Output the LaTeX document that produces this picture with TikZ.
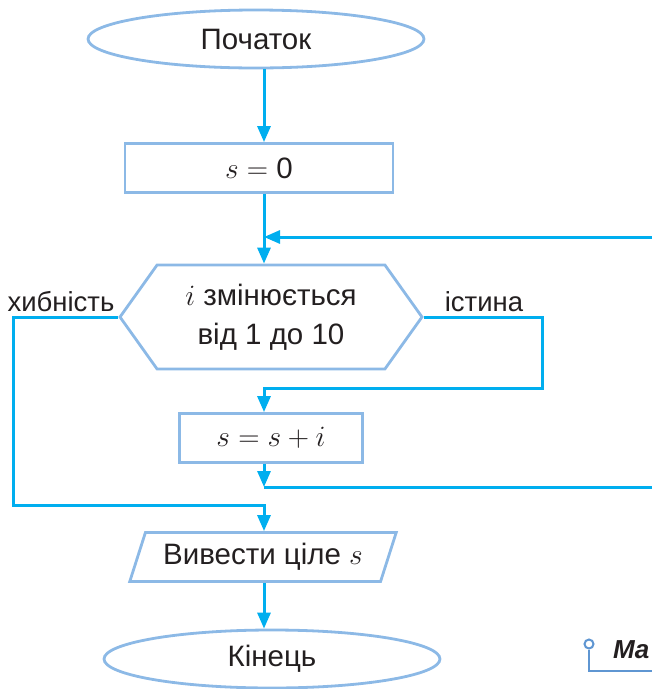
\RequirePackage{fix-cm}
\documentclass[tikz,border=0pt]{standalone}
\usepackage{fontspec}
\setmainfont{Liberation Sans}
\usetikzlibrary{positioning,arrows.meta,shapes.geometric,shapes.symbols}
\definecolor{flowline}{RGB}{0,174,239}
\definecolor{shapeline}{RGB}{140,185,230}
\definecolor{inktext}{RGB}{35,31,32}
\definecolor{pinblue}{RGB}{95,150,210}

\begin{document}
\begin{tikzpicture}[x=1pt, y=-1pt,
  every node/.style={text=inktext, font=\fontsize{29.5}{39}\selectfont},
  term/.style={draw=shapeline, line width=2.8pt, ellipse, minimum width=336pt,
               minimum height=58pt, inner sep=0pt},
  proc/.style={draw=shapeline, line width=2.8pt, rectangle, inner sep=0pt},
  io/.style={draw=shapeline, line width=2.8pt, trapezium, trapezium left angle=64,
             trapezium right angle=116, trapezium stretches=true, inner sep=0pt,
             minimum width=267pt, minimum height=49pt},
  loopbox/.style={draw=shapeline, line width=2.8pt, signal, signal to=west and east,
                  signal pointer angle=109, minimum width=302pt, minimum height=104pt,
                  inner sep=0pt, align=center},
  branch/.style={anchor=base, font=\fontsize{27.5}{33}\selectfont},
  arr/.style={-{Triangle[length=16pt,width=13pt]}, flowline, line width=3pt},
  flow/.style={flowline, line width=3pt}]
\useasboundingbox (0,0) rectangle (652,689);
\coordinate (sp) at (264,0);

\node[term] (start) at (256,39) {Початок};
\node[proc, minimum width=268pt, minimum height=49pt] (init) at (259,168) {$s = {}$0};
\node[loopbox] (cond) at (271,317) {$i$ змінюється\\ від 1 до 10};
\node[proc, minimum width=183pt, minimum height=49pt] (body) at (271,438) {$s = s + i$};
\node[io] (out) at (263,557) {Вивести ціле $s$};
\node[term] (stop) at (272,659) {Кінець};

\node[branch] (nolabel) at (61,311) {хибність};
\node[branch] (yeslabel) at (484,311) {істина};

\coordinate (back) at (652,237);
\coordinate (tr) at (542,388);
\coordinate (next) at (652,487);
\coordinate (fl) at (13,505);

\draw[arr] (start.south -| sp) -- (init.north -| sp);
\draw[arr] (init.south -| sp) -- (cond.north -| sp);
\draw[arr] (back) -- (back -| sp);
\draw[arr] (cond.east) -| (tr) -- (tr -| sp) -- (body.north -| sp);
\draw[flow] (next -| sp) -- (next);
\draw[arr] (body.south -| sp) -- (next -| sp);
\draw[arr] (cond.west) -| (fl) -- (fl -| sp) -- (out.north -| sp);
\draw[arr] (out.south -| sp) -- (stop.north -| sp);

% fragment of the next heading
\node[circle, draw=pinblue, line width=2pt, minimum size=9pt, inner sep=0pt] (pin) at (589,644) {};
\coordinate (pinend) at (652,671);
\draw[pinblue, line width=2pt] (pin.south) |- (pinend);
\node[anchor=base west, inner sep=0pt, font=\fontsize{26}{30}\selectfont\bfseries\itshape] (ma) at (613,658) {Ma};
\end{tikzpicture}
\end{document}
